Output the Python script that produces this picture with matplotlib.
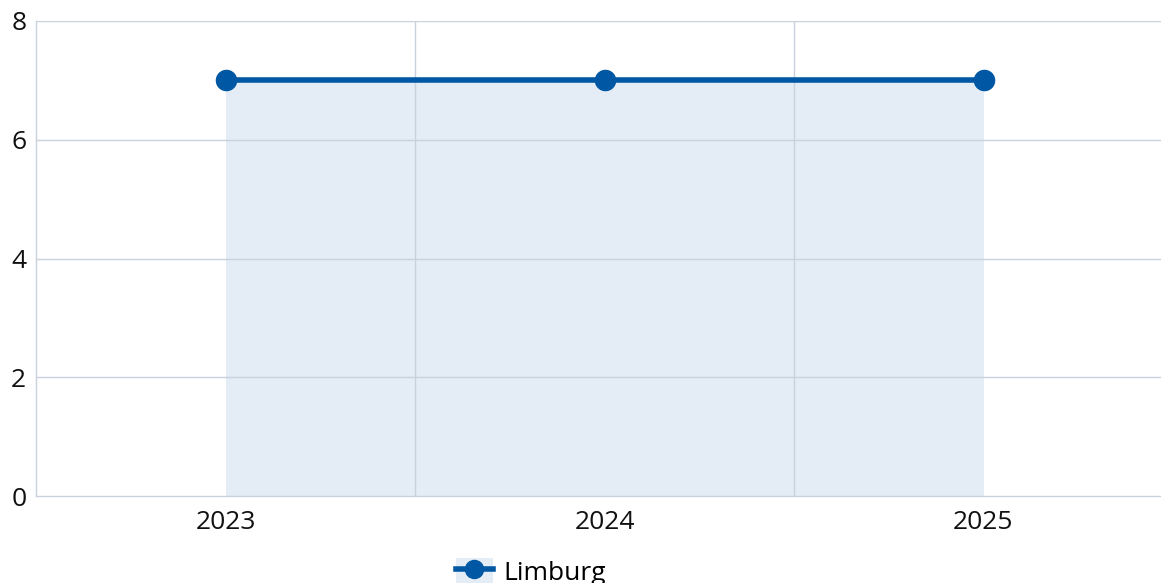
import matplotlib.pyplot as plt
from matplotlib.patches import Patch
from matplotlib.lines import Line2D

plt.rcParams['font.family'] = ['Open Sans', 'DejaVu Sans']

# data
years = ['2023', '2024', '2025']
limburg = [7, 7, 7]
series_name = 'Limburg'

line_color = '#0057a3'
fill_color = '#e4ecf5'
grid_color = '#c9d1dc'

fig = plt.figure(figsize=(11.61, 5.83), dpi=100)
# axes deliberately extends past the right edge, like the reference
ax = fig.add_axes([36 / 1161, 1 - 496 / 583, (1173 - 36) / 1161, (496 - 21) / 583])

x = list(range(len(years)))
ax.fill_between(x, limburg, 0, color=fill_color, lw=0, zorder=1)
ax.plot(x, limburg, color=line_color, lw=4, marker='o', ms=14.5, zorder=3)

ax.set_xlim(-0.5, len(years) - 0.5)
ax.set_ylim(0, 8)
ax.set_yticks([0, 2, 4, 6, 8])
ax.set_xticks(x)
ax.set_xticklabels(years)

# horizontal grid + category boundaries
for yv in [2, 4, 6, 8]:
    ax.axhline(yv, color=grid_color, lw=1, zorder=2)
for b in [0.5, 1.5]:
    ax.axvline(b, color=grid_color, lw=1, zorder=2)

for s in ['top', 'right']:
    ax.spines[s].set_visible(False)
for s in ['left', 'bottom']:
    ax.spines[s].set_color(grid_color)
    ax.spines[s].set_linewidth(1)

ax.tick_params(axis='both', length=0, labelsize=19, colors='#111111')
ax.tick_params(axis='x', pad=10)
ax.tick_params(axis='y', pad=7)

handle = (Patch(facecolor=fill_color, edgecolor='none'),
          Line2D([], [], color=line_color, lw=4, marker='o', ms=13))
fig.legend([handle], [series_name], loc='center', bbox_to_anchor=(531 / 1161, 1 - 572 / 583),
           frameon=False, fontsize=19, handlelength=1.4, handleheight=1.25, handletextpad=0.4,
           borderpad=0)

fig.savefig('out.png', dpi=100)
